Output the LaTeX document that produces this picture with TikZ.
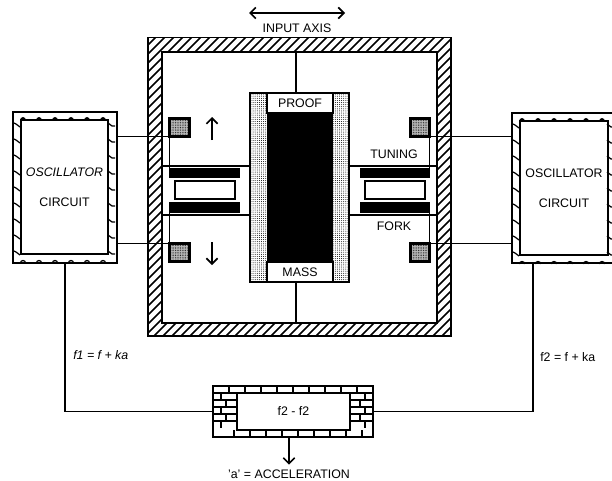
\documentclass[tikz,border=0pt]{standalone}
\usepackage{fontspec}
\setmainfont{Liberation Sans}
\usetikzlibrary{positioning,arrows.meta,calc,patterns.meta}
\tikzset{
  sized/.style 2 args={minimum width=#1*0.25mm, minimum height=#2*0.25mm, inner sep=0pt, outer sep=0pt},
  outline/.style={draw, line width=1.2pt},
  dotted strip/.style={outline, pattern={Dots[radius=0.35pt,distance=1.5pt]}},
  solid bar/.style={fill=black},
  coil/.style={draw, line width=2pt, preaction={fill=gray!55}, pattern={Dots[radius=0.3pt,distance=1.2pt]}},
  wire/.style={line width=1.2pt},
  mortar/.style={line width=1.6pt},
  barb/.style={line width=1.2pt, -{Straight Barb[length=4pt,width=8pt]}},
}
\begin{document}
\begin{tikzpicture}[x=0.25mm, y=-0.25mm, font=\fontsize{8.8}{10}\selectfont]
\clip (0,0) rectangle (612,480);
% housing
\node[sized={303}{298.5}, outline] (wallout) at (299.5,186.75) {};
\begin{scope}
\clip (wallout.north west) rectangle (wallout.south east);
\foreach \x in {-153,-144,...,451} \draw[line width=1.1pt] (\x,337) -- (\x+300,37);
\end{scope}
\node[sized={275}{271}, outline, fill=white] (wall) at (299.5,187.5) {};
\node at (297,28) (axislabel) {INPUT AXIS};
\coordinate (axisl) at (249,13); \coordinate (axisr) at (345,13);
\draw[line width=1.2pt, {Straight Barb[length=4pt,width=8pt]}-{Straight Barb[length=4pt,width=8pt]}] (axisl) -- (axisr);
% proof mass
\node[sized={99}{189}, dotted strip] (mass) at (299.5,187.5) {};
\node[sized={66}{149}, solid bar] (core) at (300,187.5) {};
\node[sized={66}{20}, outline, fill=white] (prooflabel) at (300,103) {PROOF};
\node[sized={66}{20}, outline, fill=white] (masslabel) at (300,272) {MASS};
\coordinate (rodt) at (296,93); \coordinate (rodb) at (296,282);
\draw[wire] (rodt) -- (rodt |- wall.north);
\draw[wire] (rodb) -- (rodb |- wall.south);
% tuning fork
\node[sized={71}{10}, solid bar] (bartl) at (204.5,173) {};
\node[sized={71}{11}, solid bar] (barbl) at (204.5,207.5) {};
\node[sized={70}{10}, solid bar] (bartr) at (395,173) {};
\node[sized={70}{11}, solid bar] (barbr) at (395,207.5) {};
\node[sized={60}{18}, outline, fill=white] (slotl) at (205,190) {};
\node[sized={60}{18}, outline, fill=white] (slotr) at (395,190) {};
\coordinate (tinetl) at (162,166); \coordinate (tinebl) at (162,215);
\coordinate (tinetr) at (349,166); \coordinate (tinebr) at (349,215);
\draw[wire] (tinetl) -- (tinetl -| mass.west);
\draw[wire] (tinebl) -- (tinebl -| mass.west);
\draw[wire] (tinetr) -- (tinetr -| wall.east);
\draw[wire] (tinebr) -- (tinebr -| wall.east);
\node at (394,154) (tuninglabel) {TUNING};
\node at (394,226) (forklabel) {FORK};
% pick-off coils
\node[sized={20}{18}, coil] (sqtl) at (179.5,127.5) {};
\node[sized={20}{18}, coil] (sqbl) at (179.5,252.5) {};
\node[sized={19}{18}, coil] (sqtr) at (420,127.5) {};
\node[sized={19}{18}, coil] (sqbr) at (420,252.5) {};
\coordinate (upa) at (212,140); \coordinate (upb) at (212,117);
\coordinate (dna) at (212,242); \coordinate (dnb) at (212,265);
\draw[barb] (upa) -- (upb);
\draw[barb] (dna) -- (dnb);
% oscillators
\node[sized={104}{151}, outline, fill=white] (oscl) at (65,187.5) {};
\node[sized={104}{150}, outline, fill=white] (oscr) at (564,188) {};
\node[sized={87}{134}, outline, fill=white, align=center] (oscinl) at (64.5,187) {\itshape OSCILLATOR\\[11pt]CIRCUIT};
\node[sized={88}{134}, outline, fill=white, align=center] (oscinr) at (564,188) {OSCILLATOR\\[11pt]CIRCUIT};
\foreach \dx/\dy in {0/0,499/1} {
  \begin{scope}[shift={(\dx,\dy)}]
  \foreach \x in {23,39,55,71,87,103} {
    \draw[fill=black, line width=0.5pt] (\x-2.5,120) arc[start angle=180, end angle=0, radius=2.5*0.25mm];
    \draw[line width=0.9pt] (\x-2.5,263) arc[start angle=180, end angle=0, radius=2.5*0.25mm];
  }
  \foreach \y in {123,139,...,251} {
    \draw[line width=0.9pt] (14,\y) -- (16,\y+1) -- (20,\y+4);
    \draw[line width=0.9pt] (108,\y) -- (112,\y+3) -- (115,\y+3);
  }
  \end{scope}
}
% wires
\draw[wire] (oscl.east |- sqtl.south) -- (sqtl.south west) -- (sqtl.south west |- bartl.north);
\draw[wire] (oscl.east |- sqbl.north) -- (sqbl.north west) -- (sqbl.north west |- barbl.south);
\draw[wire] (oscr.west |- sqtr.south) -- (sqtr.south east) -- (sqtr.south east |- bartr.north);
\draw[wire] (oscr.west |- sqbr.north) -- (sqbr.north east) -- (sqbr.north east |- barbr.south);
% difference box
\node[sized={160}{51}, outline, line width=1.6pt, fill=white] (brick) at (293,411.5) {};
\foreach \y/\d in {396.5/8,403.5/13,410.5/8,417.5/13,424.5/8} {
  \draw[mortar] (213,\y-3.5) -- (237,\y-3.5);
  \draw[mortar] (350,\y-3.5) -- (373,\y-3.5);
  \draw[mortar] (213+\d,\y-3.5) -- (213+\d,\y+3.5);
  \draw[mortar] (373-\d,\y-3.5) -- (373-\d,\y+3.5);
}
\foreach \x in {229,245,...,357} {
  \draw[mortar] (\x,386) -- (\x,393);
  \draw[mortar] (\x+5,430) -- (\x+5,437);
}
\node[sized={113}{37}, outline, fill=white] (diff) at (293.5,411.5) {f2 - f2};
\coordinate (outr) at (533,263);
\draw[wire] (oscl.south) |- (brick.west);
\draw[wire] (outr) |- (brick.east);
\node at (289,474) (acclabel) {'a' = ACCELERATION};
\draw[barb] (acclabel |- brick.south) -- (acclabel.north);
\node[anchor=west, inner sep=0pt] at (73,355) (fonelabel) {\itshape f1 = f + ka};
\node[anchor=west, inner sep=0pt] at (540,357) (ftwolabel) {f2 = f + ka};
\end{tikzpicture}
\end{document}
